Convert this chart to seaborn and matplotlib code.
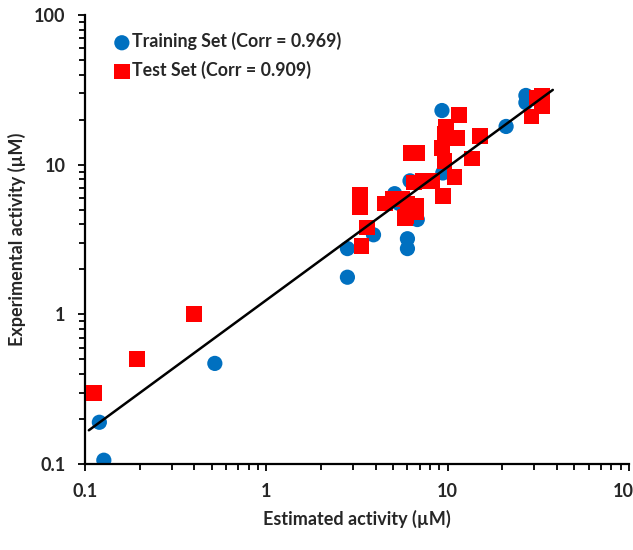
import numpy as np
import pandas as pd
import seaborn as sns
import matplotlib.pyplot as plt
from matplotlib.ticker import LogLocator, FixedLocator, FixedFormatter, NullFormatter

# Training set (estimated, experimental) in µM
train_est = [0.12, 0.127, 0.52, 2.8, 2.8, 3.9, 6.0, 6.0, 6.8, 5.4, 5.1, 6.2, 9.4, 9.3, 21, 27, 27]
train_exp = [0.19, 0.106, 0.47, 1.77, 2.75, 3.4, 2.75, 3.2, 4.3, 5.5, 6.4, 7.8, 8.8, 23, 18, 29, 26]

# Test set
test_est = [0.112, 0.194, 0.4, 3.35, 3.6, 3.3, 3.3, 4.5, 5.0, 5.6, 5.9, 6.7, 6.7, 6.0, 5.8,
            6.5, 7.3, 8.2, 9.4, 10.9, 6.3, 6.8, 13.6, 15, 11.6, 9.6, 11.2, 9.3, 9.6, 9.8,
            31, 33, 29, 33]
test_exp = [0.3, 0.5, 1.0, 2.85, 3.8, 5.2, 6.3, 5.5, 5.9, 5.9, 4.5, 4.8, 5.3, 5.5, 4.4,
            7.6, 7.8, 7.8, 6.2, 8.3, 12, 12, 11, 15.6, 21.5, 16, 15, 13, 10.6, 17.8,
            28, 24.5, 21, 29]

# trend line end points
fit_x = [0.105, 38]
fit_y = [0.168, 31.6]

labels = ['Training Set (Corr = 0.969)', 'Test Set (Corr = 0.909)']
ticks = [0.1, 1, 10, 100]
tick_labels = ['0.1', '1', '10', '100']

sns.set_style('white')
plt.rcParams['font.family'] = ['Lato', 'DejaVu Sans']

fig = plt.figure(figsize=(6.33, 5.5), dpi=100)
ax = fig.add_axes([85 / 633, 1 - 464 / 550, 544 / 633, 449 / 550])

train = pd.DataFrame({'est': train_est, 'exp': train_exp})
test = pd.DataFrame({'est': test_est, 'exp': test_exp})

sns.scatterplot(data=train, x='est', y='exp', ax=ax, color='#0070C0', marker='o',
                s=120, edgecolor='none', label=labels[0], zorder=2)
sns.scatterplot(data=test, x='est', y='exp', ax=ax, color='#FF0000', marker='s',
                s=130, edgecolor='none', label=labels[1], zorder=3)
sns.lineplot(x=fit_x, y=fit_y, ax=ax, color='black', linewidth=1.8, sort=False, zorder=4)

ax.set_xscale('log')
ax.set_yscale('log')
ax.set_xlim(0.1, 100)
ax.set_ylim(0.1, 100)

for axis in (ax.xaxis, ax.yaxis):
    axis.set_major_locator(FixedLocator(ticks))
    axis.set_major_formatter(FixedFormatter(tick_labels))
    axis.set_minor_locator(LogLocator(base=10, subs=np.arange(2, 10)))
    axis.set_minor_formatter(NullFormatter())

ax.tick_params(which='both', direction='out', color='black', width=1.3,
               bottom=True, left=True)
ax.tick_params(which='major', length=5, pad=9, labelsize=13)
ax.tick_params(which='minor', length=4)
for lab in ax.get_xticklabels() + ax.get_yticklabels():
    lab.set_fontweight('bold')

sns.despine(ax=ax)
for sp in ('left', 'bottom'):
    ax.spines[sp].set_color('black')
    ax.spines[sp].set_linewidth(1.6)

ax.set_xlabel('Estimated activity (µM)', fontsize=13, fontweight='bold', labelpad=7)
ax.set_ylabel('Experimental activity (µM)', fontsize=13, fontweight='bold', labelpad=6)

leg = ax.legend(loc='upper left', bbox_to_anchor=(0.022, 0.997), frameon=False,
                handletextpad=0.05, labelspacing=0.6, handlelength=1.0,
                prop={'weight': 'bold', 'size': 12.8})

fig.savefig('out.png', dpi=100)
